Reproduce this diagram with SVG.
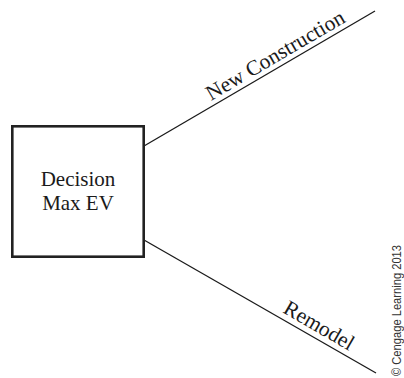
<svg xmlns="http://www.w3.org/2000/svg" width="404" height="378" viewBox="0 0 404 378">
  <style>
    .serif { font-family: "Liberation Serif", "Times New Roman", serif; fill: #1a1a1a; }
    .node-box { fill: #ffffff; stroke: #222222; stroke-width: 2.6; }
    .branch { stroke: #1a1a1a; stroke-width: 1.3; fill: none; }
    .credit { font-family: "Liberation Sans", Arial, sans-serif; font-size: 13.5px; fill: #333333; }
  </style>
  <rect width="404" height="378" fill="#ffffff"/>

  <!-- branches leaving the decision node -->
  <g id="connectors">
    <line class="branch" x1="144" y1="146" x2="375" y2="11"/>
    <line class="branch" x1="144" y1="240" x2="376" y2="373"/>
    <text class="serif" font-size="21.5" transform="translate(211 101) rotate(-30.4)">New Construction</text>
    <text class="serif" font-size="21.5" transform="translate(282 312) rotate(30.2)">Remodel</text>
  </g>

  <!-- decision node -->
  <g id="decision">
    <rect class="node-box" x="12.3" y="126.3" width="131.4" height="130.4"/>
    <text class="serif" font-size="21" x="78" y="186" text-anchor="middle">Decision</text>
    <text class="serif" font-size="21" x="78" y="210" text-anchor="middle">Max EV</text>
  </g>

  <!-- credit line -->
  <text class="credit" transform="translate(401 376) rotate(-90)" textLength="131" lengthAdjust="spacingAndGlyphs">© Cengage Learning 2013</text>
</svg>
